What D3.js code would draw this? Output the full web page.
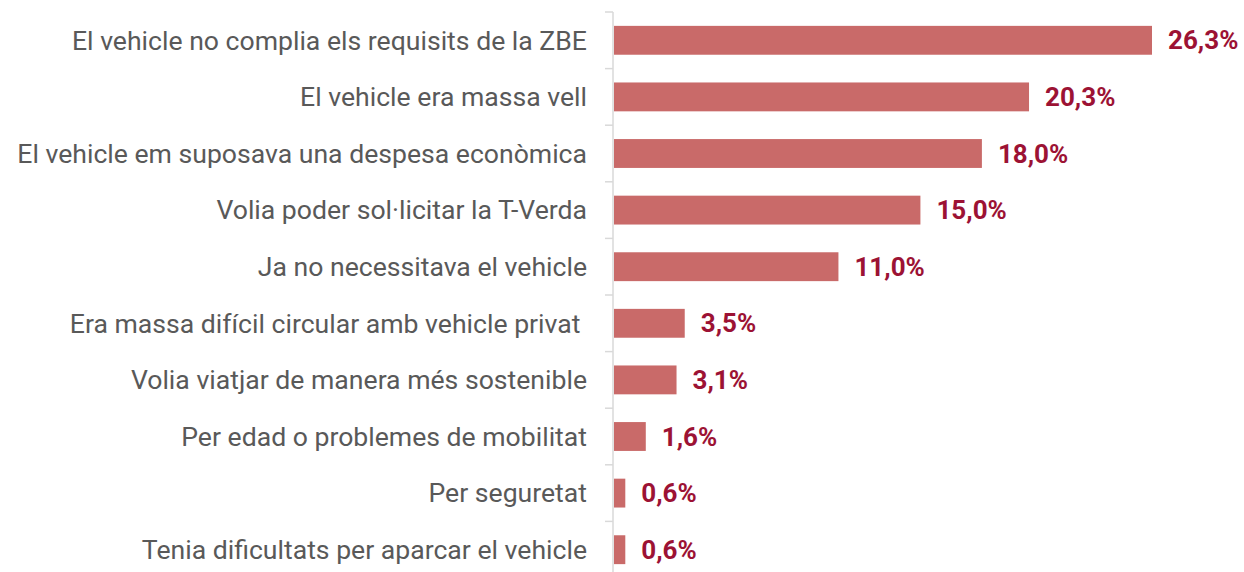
<!DOCTYPE html>
<html>
<head>
<meta charset="utf-8">
<script src="https://cdn.jsdelivr.net/npm/d3@7"></script>
<style>
  body { margin: 0; background: #fff; }
  text { font-family: Roboto, sans-serif; white-space: pre; }
</style>
</head>
<body>
<div id="chart"></div>
<script>
// categories, top to bottom
const categories = [
    "El vehicle no complia els requisits de la ZBE",
    "El vehicle era massa vell",
    "El vehicle em suposava una despesa econòmica",
    "Volia poder sol·licitar la T-Verda",
    "Ja no necessitava el vehicle",
    "Era massa difícil circular amb vehicle privat ",
    "Volia viatjar de manera més sostenible",
    "Per edad o problemes de mobilitat",
    "Per seguretat",
    "Tenia dificultats per aparcar el vehicle"
];
const values = [26.3, 20.3, 18.0, 15.0, 11.0, 3.5, 3.1, 1.6, 0.6, 0.6];
const valueLabels = ["26,3%", "20,3%", "18,0%", "15,0%", "11,0%", "3,5%", "3,1%", "1,6%", "0,6%", "0,6%"];

const width = 1244;
const height = 572;
const margin = {top: 12, left: 613};

const svg = d3.select("#chart").append("svg")
    .attr("width", width)
    .attr("height", height);

const data = categories.map((c, i) => ({cat: c, value: values[i], label: valueLabels[i]}));

// scales
const step = 56.6;
const yScale = d3.scaleBand()
    .domain(categories)
    .range([margin.top, margin.top + step * categories.length])
    .paddingInner(0.49)
    .paddingOuter(0.245);

const xScale = d3.scaleLinear()
    .domain([0, 26.3])
    .range([margin.left, 1152]);

// axis line and tick marks at band boundaries
svg.append("line")
    .attr("x1", margin.left).attr("x2", margin.left)
    .attr("y1", margin.top).attr("y2", height)
    .attr("stroke", "#d9d9d9")
    .attr("stroke-width", 1.5);

svg.selectAll(".tick")
    .data(d3.range(categories.length))
    .enter()
    .append("line")
    .attr("x1", margin.left - 8).attr("x2", margin.left)
    .attr("y1", i => margin.top + i * step)
    .attr("y2", i => margin.top + i * step)
    .attr("stroke", "#d9d9d9")
    .attr("stroke-width", 1.5);

// bars
svg.selectAll("rect")
    .data(data)
    .enter()
    .append("rect")
    .attr("x", xScale(0) + 1)
    .attr("y", d => yScale(d.cat))
    .attr("width", d => xScale(d.value) - xScale(0) - 1)
    .attr("height", yScale.bandwidth())
    .attr("fill", "#c96a69");

// category labels
svg.selectAll(".cat")
    .data(data)
    .enter()
    .append("text")
    .attr("class", "cat")
    .attr("x", 587)
    .attr("y", d => yScale(d.cat) + yScale.bandwidth() / 2)
    .attr("dy", "0.35em")
    .attr("text-anchor", "end")
    .attr("font-size", 26.6)
    .attr("fill", "#595959")
    .text(d => d.cat);

// value labels
svg.selectAll(".val")
    .data(data)
    .enter()
    .append("text")
    .attr("class", "val")
    .attr("x", d => xScale(d.value) + 16)
    .attr("y", d => yScale(d.cat) + yScale.bandwidth() / 2)
    .attr("dy", "0.35em")
    .attr("font-size", 26)
    .attr("font-weight", "bold")
    .attr("fill", "#9c1234")
    .text(d => d.label);
</script>
</body>
</html>
